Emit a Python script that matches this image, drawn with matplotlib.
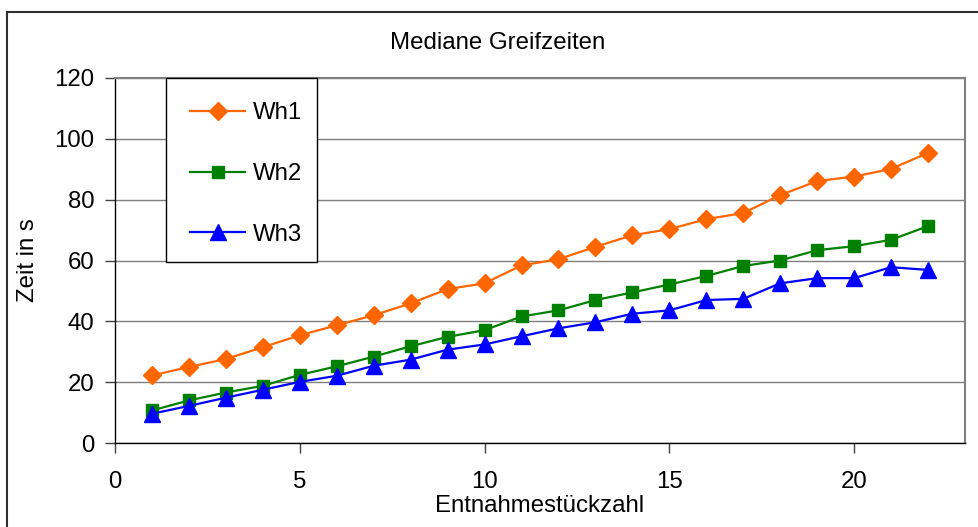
import matplotlib.pyplot as plt
from matplotlib.lines import Line2D
from matplotlib.patches import Rectangle

plt.rcParams['font.family'] = ['Liberation Sans', 'DejaVu Sans']

# Entnahmestueckzahl 1..22
x = list(range(1, 23))
wh1 = [22.2, 25.0, 27.6, 31.5, 35.4, 38.7, 42.0, 45.9, 50.6, 52.5, 58.4,
       60.4, 64.5, 68.3, 70.3, 73.6, 75.6, 81.5, 86.1, 87.6, 90.1, 95.4]
wh2 = [10.7, 14.0, 16.6, 18.8, 22.4, 25.2, 28.4, 31.8, 34.9, 37.1, 41.6,
       43.6, 47.0, 49.5, 52.1, 54.9, 58.2, 60.0, 63.4, 64.7, 66.8, 71.3]
wh3 = [9.6, 12.2, 14.9, 17.5, 20.1, 22.1, 25.4, 27.4, 30.7, 32.4, 35.1,
       37.7, 39.7, 42.5, 43.6, 47.0, 47.4, 52.5, 54.2, 54.2, 57.8, 56.9]
labels = ['Wh1', 'Wh2', 'Wh3']

fs = 17.3

fig = plt.figure(figsize=(9.79, 5.27), dpi=100)
ax = fig.add_axes([115/979, (527-443)/527, (965-115)/979, (443-78)/527])

ax.plot(x, wh1, color='#FF6600', lw=1.6, marker='D', ms=9, label=labels[0])
ax.plot(x, wh2, color='#008000', lw=1.6, marker='s', ms=8.5, label=labels[1])
ax.plot(x, wh3, color='#0000FF', lw=1.6, marker='^', ms=11, label=labels[2])

ax.set_xlim(0, 23)
ax.set_ylim(0, 120)
ax.set_xticks([0, 5, 10, 15, 20])
ax.set_yticks(range(0, 121, 20))
ax.yaxis.grid(True, color='#7f7f7f', lw=1)
ax.set_axisbelow(True)

for s in ['left', 'bottom']:
    ax.spines[s].set_color('black')
    ax.spines[s].set_linewidth(1)
for s in ['top', 'right']:
    ax.spines[s].set_color('#808080')
    ax.spines[s].set_linewidth(1.5)

ax.tick_params(axis='both', labelsize=fs, direction='out', length=7,
               width=1, color='#404040', pad=8)
ax.tick_params(axis='x', pad=13)

ax.set_xlabel('Entnahmestückzahl', fontsize=fs)
ax.set_ylabel('Zeit in s', fontsize=fs)
ax.xaxis.set_label_coords(0.5, -(506 - 443) / 365, transform=ax.transAxes)
ax.xaxis.label.set_va('center')
ax.yaxis.set_label_coords(-(115 - 28) / 850, 0.5, transform=ax.transAxes)
ax.yaxis.label.set_va('center')

fig.text(498/979, 1 - 43/527, 'Mediane Greifzeiten', fontsize=fs,
         ha='center', va='center')

# legend box drawn separately so its size matches the original
ax.add_patch(Rectangle((51/850, (443-262)/365), 151/850, 184/365,
                       transform=ax.transAxes, facecolor='white',
                       edgecolor='black', lw=1, zorder=4, clip_on=False))
leg = ax.legend(loc='upper left', bbox_to_anchor=(51/850, 1.0),
                borderaxespad=0, fontsize=fs, frameon=False,
                labelspacing=1.62, handlelength=2.3,
                handletextpad=0.3, borderpad=1.0)
leg.set_zorder(5)

# outer chart border (continues past the right and bottom edges)
fig.add_artist(Line2D([7/979, 1], [1 - 12/527, 1 - 12/527],
                      transform=fig.transFigure, color='#303030', lw=1.5))
fig.add_artist(Line2D([7/979, 7/979], [0, 1 - 12/527],
                      transform=fig.transFigure, color='#303030', lw=1.5))

fig.savefig('out.png', dpi=100)
